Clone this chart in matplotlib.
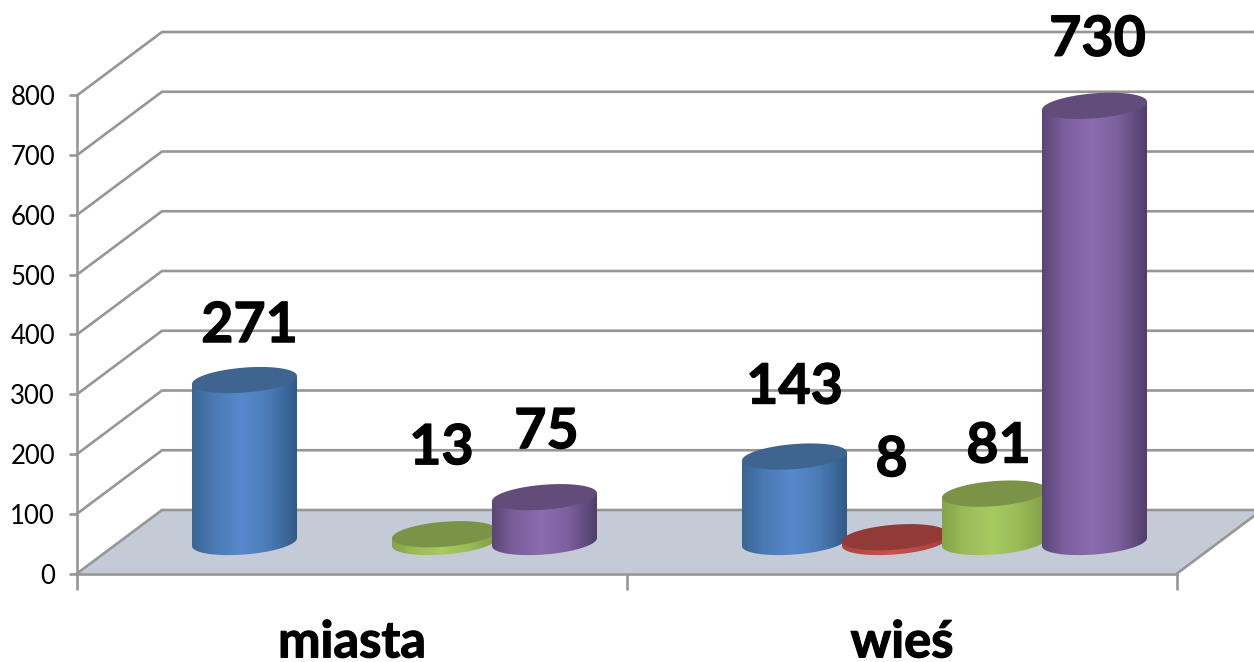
import numpy as np
import matplotlib
matplotlib.use("Agg")
import matplotlib.pyplot as plt
import matplotlib.patheffects as pe
from matplotlib.colors import LinearSegmentedColormap
from matplotlib.patches import Polygon

plt.rcParams['font.family'] = ['Lato', 'DejaVu Sans']

categories = ["miasta", "wieś"]
y_ticks = [0, 100, 200, 300, 400, 500, 600, 700, 800]

# four series, miasta has no red bar
blue_values = [271, 143]
red_values = [np.nan, 8]
green_values = [13, 81]
purple_values = [75, 730]

# (series, category): label nudge from the cylinder top, in pixels
label_nudge = {
    (0, 0): (5, -54), (0, 1): (0, -69),
    (1, 1): (-3, -77),
    (2, 0): (-3, -86), (2, 1): (4, -47),
    (3, 0): (2, -65), (3, 1): (3, -66),
}

W, H = 1254, 662
PX_X = 1 / 550.0    # one category is 550 px wide
PX_Y = 100 / 59.75  # 100 units are 59.75 px high
LEFT, ZERO = 77, 573.5
DEPTH_X, DEPTH_Y = 85 * PX_X, 63.5 * PX_Y
GREY = "#969696"
BOLD = [pe.withStroke(linewidth=0.9, foreground="black")]

fig = plt.figure(figsize=(W / 100, H / 100), dpi=100)
ax = fig.add_axes([0, 0, 1, 1])

# floor and walls
ax.add_patch(Polygon([(0, 0), (2, 0), (2 + DEPTH_X, DEPTH_Y), (DEPTH_X, DEPTH_Y)],
                     facecolor="#c4cbd6", edgecolor="none", zorder=1))
for t in y_ticks:
    ax.plot([0, DEPTH_X, 2 + DEPTH_X], [t, t + DEPTH_Y, t + DEPTH_Y],
            color=GREY, lw=1.9, zorder=2, solid_joinstyle="miter")
ax.plot([2, 2 + DEPTH_X], [0, DEPTH_Y], color=GREY, lw=1.9, zorder=2)


def shaded(mid, side_l, side_r, edge_l, edge_r):
    return LinearSegmentedColormap.from_list(
        "body", [(0, edge_l), (0.2, side_l), (0.47, mid), (0.72, side_r), (1, edge_r)])


def cylinder(cx, value, body, top, z):
    a = 52.5 * PX_X
    b = 12.5 * PX_Y
    k = 4 * PX_Y
    base = 31.5 * PX_Y
    t = np.linspace(0, 2 * np.pi, 180)
    # body outline: front of the base, then straight across under the cap
    t2 = np.linspace(np.pi, 2 * np.pi, 90)
    fx = a * np.cos(t2)
    fy = b * np.sin(t2) + k * np.cos(t2)
    xs = np.r_[cx + fx, cx + fx[::-1]]
    ys = np.r_[base + fy, base + value + k * np.cos(t2[::-1])]
    clip = Polygon(np.c_[xs, ys], transform=ax.transData, facecolor="none", edgecolor="none")
    ax.add_patch(clip)
    im = ax.imshow(np.linspace(0, 1, 256)[None, :], cmap=body, aspect="auto",
                   extent=[cx - a, cx + a, base - b - k, base + value + b + k],
                   zorder=z, interpolation="bilinear")
    im.set_clip_path(clip)
    ax.add_patch(Polygon(np.c_[cx + a * np.cos(t), base + value + b * np.sin(t) + k * np.cos(t)],
                         facecolor=top, edgecolor="none", zorder=z + 0.5))


series = [
    (blue_values, shaded("#5689cd", "#4a79b2", "#4c7cb8", "#3a6694", "#325a88"), "#3e648f"),
    (red_values, shaded("#cb514e", "#b94a47", "#b94a47", "#a84340", "#a03e3c"), "#913a38"),
    (green_values, shaded("#a8ca60", "#9aba58", "#9bbc58", "#84a446", "#7f9e44"), "#7a9347"),
    (purple_values, shaded("#8b6cae", "#7a5e9b", "#7d619e", "#5a4575", "#503e6b"), "#624c7a"),
]

first = (244.5 - LEFT) * PX_X
step = 100 * PX_X
z = 3
for s, (values, body, top) in enumerate(series):
    for c, v in enumerate(values):
        if np.isnan(v):
            continue
        cx = first + c + s * step
        cylinder(cx, v, body, top, z)
        z += 1
        nx, ny = label_nudge[(s, c)]
        ax.text(cx + nx * PX_X, 31.5 * PX_Y + v - ny * PX_Y, str(v), fontsize=40,
                fontweight="bold", ha="center", va="center", color="black", zorder=50,
                path_effects=BOLD)

ax.set_xlim(-LEFT * PX_X, (W - LEFT) * PX_X)
ax.set_ylim(-(H - ZERO) * PX_Y, ZERO * PX_Y)

# axes
for side in ["top", "right"]:
    ax.spines[side].set_visible(False)
ax.spines["left"].set_position(("data", 0))
ax.spines["bottom"].set_position(("data", 0))
ax.spines["left"].set_bounds(0, 800)
ax.spines["bottom"].set_bounds(0, 2)
for side in ["left", "bottom"]:
    ax.spines[side].set_color(GREY)
    ax.spines[side].set_linewidth(1.9)
    ax.spines[side].set_zorder(2.5)
ax.set_yticks(y_ticks)
ax.tick_params(axis="y", direction="out", length=5.8, width=1.9, color=GREY,
               labelsize=18.5, pad=10, labelcolor="black")
ax.set_xticks([0, 1, 2])
ax.set_xticklabels([])
ax.tick_params(axis="x", which="major", direction="out", length=11.5, width=1.9, color=GREY)
ax.set_xticks([0.5, 1.5], minor=True)
ax.set_xticklabels(categories, minor=True, fontsize=36.5, fontweight="bold",
                   path_effects=BOLD)
ax.tick_params(axis="x", which="minor", length=0, pad=33, labelcolor="black")
ax.patch.set_visible(False)

fig.savefig("out.png", dpi=100)
